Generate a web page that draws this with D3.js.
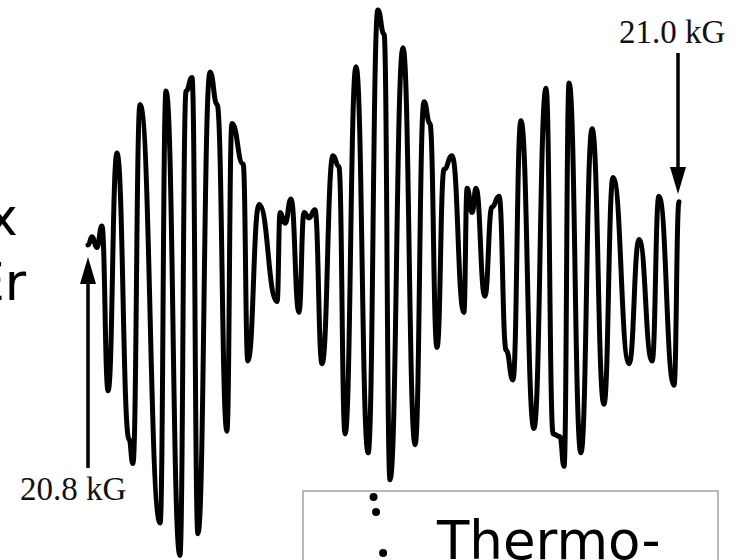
<!DOCTYPE html>
<html>
<head>
<meta charset="utf-8">
<script src="https://cdn.jsdelivr.net/npm/d3@7"></script>
<style>
  html, body { margin: 0; padding: 0; background: #fff; }
  svg { display: block; }
</style>
</head>
<body>
<div id="chart"></div>
<script>
// Field sweep (kG) at each turning point of the recorder trace
const fields = [
  20.8000, 20.8014, 20.8030, 20.8047, 20.8068, 20.8098, 20.8139, 20.8152,
  20.8176, 20.8244, 20.8264, 20.8311, 20.8332, 20.8352, 20.8372, 20.8413,
  20.8437, 20.8470, 20.8487, 20.8525, 20.8541, 20.8579, 20.8640, 20.8650,
  20.8667, 20.8687, 20.8714, 20.8731, 20.8748, 20.8768, 20.8792, 20.8829,
  20.8849, 20.8870, 20.8907, 20.8948, 20.8981, 20.9002, 20.9022, 20.9066,
  20.9107, 20.9137, 20.9157, 20.9181, 20.9205, 20.9232, 20.9272, 20.9283,
  20.9300, 20.9313, 20.9343, 20.9367, 20.9391, 20.9415, 20.9438, 20.9465,
  20.9509, 20.9550, 20.9574, 20.9597, 20.9611, 20.9628, 20.9668, 20.9706,
  20.9746, 20.9777, 20.9831, 20.9865, 20.9909, 20.9932, 20.9983, 21.0000
]

// Oscillation amplitude (arb. units) at the same points
const signal = [
   0.13,  0.16,  0.12,  0.20, -0.41,  0.47, -0.59, -0.68,
   0.65, -0.90,  0.70, -1.02,  0.70,  0.75, -0.94,  0.77,
   0.65, -0.56,  0.58,  0.43, -0.30,  0.28, -0.08,  0.25,
   0.21,  0.30, -0.12,  0.25,  0.23,  0.26, -0.31,  0.46,
   0.42, -0.57,  0.79, -0.64,  1.00,  0.91, -0.74,  0.86,
  -0.61,  0.66,  0.58, -0.25,  0.41,  0.46, -0.12,  0.34,
   0.25,  0.34, -0.06,  0.27,  0.31, -0.26, -0.37,  0.59,
  -0.55,  0.71, -0.57, -0.58, -0.69,  0.73, -0.64,  0.56,
  -0.46,  0.38, -0.31,  0.15, -0.30,  0.31, -0.39,  0.29
]

// Arrow markers at the sweep ends
const markerFields = [20.8, 21.0]
const markerLabels = ['20.8 kG', '21.0 kG']

// Points of the inset plot peeking in at the bottom (box units)
const insetX = [0.17, 0.176, 0.193]
const insetY = [0.06, 0.21, 0.62]

const width = 736
const height = 560

const svg = d3.select('#chart')
  .append('svg')
  .attr('width', width)
  .attr('height', height)

svg.append('rect')
  .attr('width', width)
  .attr('height', height)
  .attr('fill', '#fff')

const x = d3.scaleLinear().domain([20.8, 21.0]).range([88, 679])
const y = d3.scaleLinear().domain([-1, 1]).range([550, 10])

// Slide text cut off at the left edge
svg.append('text')
  .attr('x', -13)
  .attr('y', 235)
  .attr('font-family', 'DejaVu Sans, Verdana, sans-serif')
  .attr('font-size', '52px')
  .attr('fill', '#000')
  .text('x')

svg.append('text')
  .attr('x', -28)
  .attr('y', 300)
  .attr('font-family', 'DejaVu Sans, Verdana, sans-serif')
  .attr('font-size', '52px')
  .attr('fill', '#000')
  .text('Er')

// Trace - bump curve keeps the flat rounded tips and steep sides of the pen record
const points = fields.map((f, i) => [f, signal[i]])
const line = d3.line()
  .x(d => x(d[0]))
  .y(d => y(d[1]))
  .curve(d3.curveBumpX)

svg.append('path')
  .datum(points)
  .attr('d', line)
  .attr('fill', 'none')
  .attr('stroke', '#000')
  .attr('stroke-width', 5)
  .attr('stroke-linejoin', 'round')
  .attr('stroke-linecap', 'round')

// Arrows: 20.8 kG points up from below, 21.0 kG points down from above
const serif = 'Liberation Serif, Times New Roman, serif'
const arrows = [
  { field: markerFields[0], label: markerLabels[0], y0: 468, y1: 257, dir: -1, lx: -68, ly: 500 },
  { field: markerFields[1], label: markerLabels[1], y0: 53, y1: 194, dir: 1, lx: -59, ly: 43 }
]

arrows.forEach(a => {
  const ax = x(a.field) - (a.dir > 0 ? 1 : 0)
  const headLen = 27
  const headW = 8

  svg.append('line')
    .attr('x1', ax)
    .attr('x2', ax)
    .attr('y1', a.y0)
    .attr('y2', a.y1 - a.dir * headLen)
    .attr('stroke', '#000')
    .attr('stroke-width', 3.5)

  svg.append('path')
    .attr('d', `M ${ax},${a.y1} L ${ax - headW},${a.y1 - a.dir * headLen} L ${ax + headW},${a.y1 - a.dir * headLen} Z`)
    .attr('fill', '#000')

  svg.append('text')
    .attr('x', ax + a.lx)
    .attr('y', a.ly)
    .attr('font-family', serif)
    .attr('font-size', '33px')
    .attr('fill', '#111')
    .text(a.label)
})

// Inset box at the bottom right
const box = { x: 303, y: 491, w: 415, h: 120 }
svg.append('rect')
  .attr('x', box.x)
  .attr('y', box.y)
  .attr('width', box.w)
  .attr('height', box.h)
  .attr('fill', 'none')
  .attr('stroke', '#8a8a8a')
  .attr('stroke-width', 1.2)

const ix = d3.scaleLinear().domain([0, 1]).range([box.x, box.x + box.w])
const iy = d3.scaleLinear().domain([0, 1]).range([box.y, box.y + 100])

svg.selectAll('circle.inset')
  .data(insetX.map((v, i) => [v, insetY[i]]))
  .join('circle')
  .attr('class', 'inset')
  .attr('cx', d => ix(d[0]))
  .attr('cy', d => iy(d[1]))
  .attr('r', 4)
  .attr('fill', '#000')

svg.append('text')
  .attr('x', 437)
  .attr('y', 559)
  .attr('font-family', 'DejaVu Sans, Verdana, sans-serif')
  .attr('font-size', '53px')
  .attr('fill', '#000')
  .text('Thermo-')
</script>
</body>
</html>
